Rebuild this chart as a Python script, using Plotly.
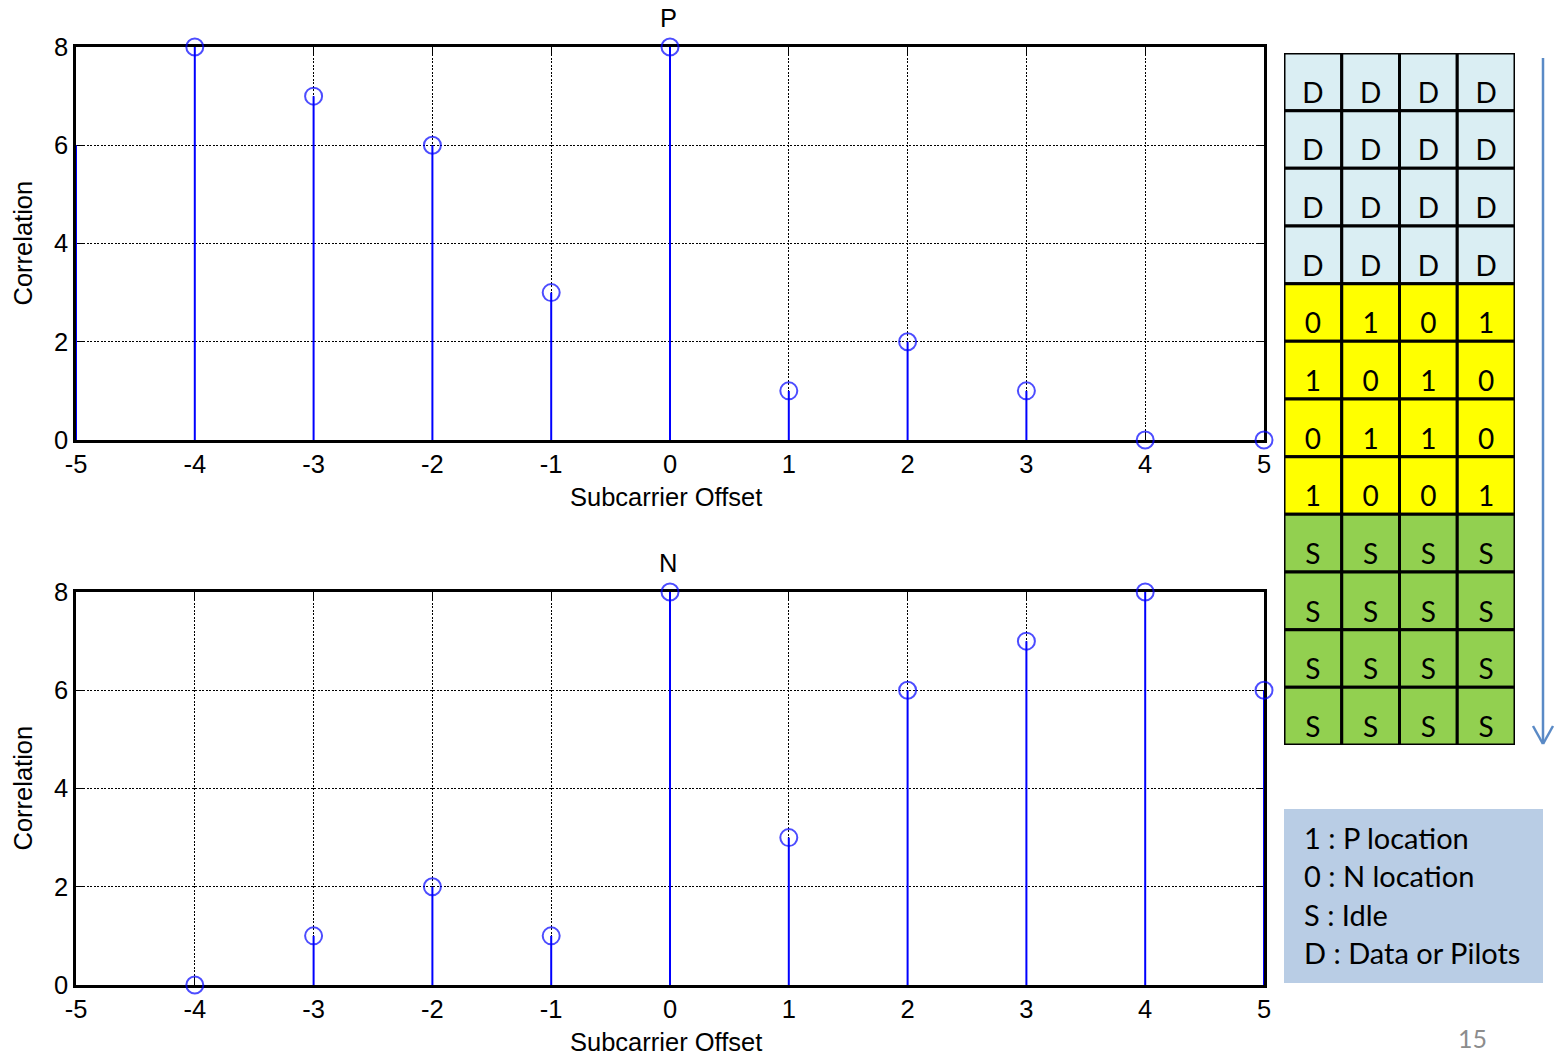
import plotly.graph_objects as go

# ---------------- data ----------------
offsets = [-5, -4, -3, -2, -1, 0, 1, 2, 3, 4, 5]
p_corr = [6, 8, 7, 6, 3, 8, 1, 2, 1, 0, 0]
n_corr = [0, 0, 1, 2, 1, 8, 3, 6, 7, 8, 6]
x_ticks = [-5, -4, -3, -2, -1, 0, 1, 2, 3, 4, 5]
x_tick_labels = ["-5", "-4", "-3", "-2", "-1", "0", "1", "2", "3", "4", "5"]
y_ticks = [0, 2, 4, 6, 8]
y_tick_labels = ["0", "2", "4", "6", "8"]
panel_titles = ["P", "N"]
x_label = "Subcarrier Offset"
y_label = "Correlation"

grid_rows = [
    ["D", "D", "D", "D"],
    ["D", "D", "D", "D"],
    ["D", "D", "D", "D"],
    ["D", "D", "D", "D"],
    ["0", "1", "0", "1"],
    ["1", "0", "1", "0"],
    ["0", "1", "1", "0"],
    ["1", "0", "0", "1"],
    ["S", "S", "S", "S"],
    ["S", "S", "S", "S"],
    ["S", "S", "S", "S"],
    ["S", "S", "S", "S"],
]
legend_lines = ["1 : P location", "0 : N location", "S : Idle", "D : Data or Pilots"]
page_number = "15"

# ---------------- styling ----------------
W, H = 1556, 1055
BLUE = "#0000ff"
cell_colors = {"D": "#daeef3", "0": "#ffff00", "1": "#ffff00", "S": "#92d050"}
TICK_FONT = dict(family="Liberation Sans, Arial", size=25.5, color="black")
CELL_FONT = dict(family="Lato", size=28, color="black")


def px_x(p):
    return p / W


def px_y(p):
    return 1 - p / H


fig = go.Figure()

panels = [
    (p_corr, "x", "y", (47, 440)),
    (n_corr, "x2", "y2", (592, 985)),
]

for vals, xa, ya, _ in panels:
    sx, sy = [], []
    for xv, yv in zip(offsets, vals):
        sx += [xv, xv, None]
        sy += [0, yv, None]
    fig.add_trace(go.Scatter(x=sx, y=sy, mode="lines", xaxis=xa, yaxis=ya,
                             line=dict(color=BLUE, width=2), hoverinfo="skip",
                             showlegend=False, cliponaxis=False))
    sizes = [0 if xv == offsets[0] else 17 for xv in offsets]
    fig.add_trace(go.Scatter(x=offsets, y=vals, mode="markers", xaxis=xa, yaxis=ya,
                             marker=dict(symbol="circle-open", size=sizes, color=BLUE,
                                         line=dict(width=2, color=BLUE)),
                             showlegend=False, cliponaxis=False))

axis_common = dict(
    showline=True, linecolor="black", linewidth=2.5, mirror="ticks",
    ticks="inside", ticklen=8, tickwidth=1, tickcolor="black",
    showgrid=True, gridcolor="black", gridwidth=1.3, griddash="2px,1.5px",
    zeroline=False, tickfont=TICK_FONT, layer="below traces", automargin=False,
)

fig.update_layout(
    width=W, height=H, margin=dict(l=0, r=0, t=0, b=0, autoexpand=False),
    paper_bgcolor="white", plot_bgcolor="rgba(0,0,0,0)", showlegend=False,
)

for i, (vals, xa, ya, (top, bot)) in enumerate(panels):
    xname = "xaxis" if xa == "x" else "xaxis2"
    yname = "yaxis" if ya == "y" else "yaxis2"
    fig.update_layout(**{
        xname: dict(axis_common, domain=[px_x(76), px_x(1264)], range=[-5, 5],
                    tickvals=x_ticks, ticktext=x_tick_labels, anchor=ya),
        yname: dict(axis_common, domain=[px_y(bot), px_y(top)], range=[0, 8],
                    tickvals=y_ticks, ticktext=y_tick_labels, anchor=xa),
    })
    fig.add_annotation(text=panel_titles[i], xref="paper", yref="paper",
                       x=px_x(668), y=px_y(top - 29), showarrow=False,
                       font=TICK_FONT, xanchor="center", yanchor="middle")
    fig.add_annotation(text=x_label, xref="paper", yref="paper",
                       x=px_x(666), y=px_y(bot + 57), showarrow=False,
                       font=TICK_FONT, xanchor="center", yanchor="middle")
    fig.add_annotation(text=y_label, xref="paper", yref="paper", textangle=-90,
                       x=px_x(22), y=px_y((top + bot) / 2), showarrow=False,
                       font=TICK_FONT, xanchor="center", yanchor="middle")

# ---------------- resource grid ----------------
n_rows = len(grid_rows)
n_cols = len(grid_rows[0])
fig.update_layout(
    xaxis3=dict(domain=[px_x(1284), px_x(1515)], range=[0, n_cols], visible=False,
                anchor="y3", fixedrange=True, automargin=False),
    yaxis3=dict(domain=[px_y(745), px_y(53)], range=[n_rows, 0], visible=False,
                anchor="x3", fixedrange=True, automargin=False),
)
tx, ty, tt = [], [], []
for r, row in enumerate(grid_rows):
    for c, lab in enumerate(row):
        fig.add_shape(type="rect", xref="x3", yref="y3", x0=c, x1=c + 1, y0=r, y1=r + 1,
                      fillcolor=cell_colors[lab], line=dict(color="black", width=3),
                      layer="below")
        tx.append(c + 0.5)
        ty.append(r + 0.74)
        tt.append(lab)
fig.add_trace(go.Scatter(x=tx, y=ty, text=tt, mode="text", xaxis="x3", yaxis="y3",
                         textfont=CELL_FONT, hoverinfo="skip", showlegend=False,
                         cliponaxis=False))

# arrow
ARROW = "#5a8ac6"
fig.add_shape(type="line", xref="paper", yref="paper", x0=px_x(1543), x1=px_x(1543),
              y0=px_y(58), y1=px_y(744), line=dict(color=ARROW, width=2.5))
fig.add_shape(type="line", xref="paper", yref="paper", x0=px_x(1533), x1=px_x(1543),
              y0=px_y(726), y1=px_y(744), line=dict(color=ARROW, width=2.5))
fig.add_shape(type="line", xref="paper", yref="paper", x0=px_x(1553), x1=px_x(1543),
              y0=px_y(726), y1=px_y(744), line=dict(color=ARROW, width=2.5))

# legend box
fig.add_shape(type="rect", xref="paper", yref="paper", x0=px_x(1284), x1=px_x(1543),
              y0=px_y(983), y1=px_y(809), fillcolor="#b9cde5", line=dict(width=0),
              layer="below")
for k, line in enumerate(legend_lines):
    fig.add_annotation(text=line, xref="paper", yref="paper", x=px_x(1302),
                       y=px_y(837 + k * 38.5), xanchor="left", yanchor="middle",
                       showarrow=False, font=dict(family="Lato", size=29, color="black"))

fig.add_annotation(text=page_number, xref="paper", yref="paper", x=px_x(1472),
                   y=0, xanchor="center", yanchor="bottom", showarrow=False,
                   font=dict(family="Lato", size=25, color="#8c8c8c"))

fig.write_html("out.html")
